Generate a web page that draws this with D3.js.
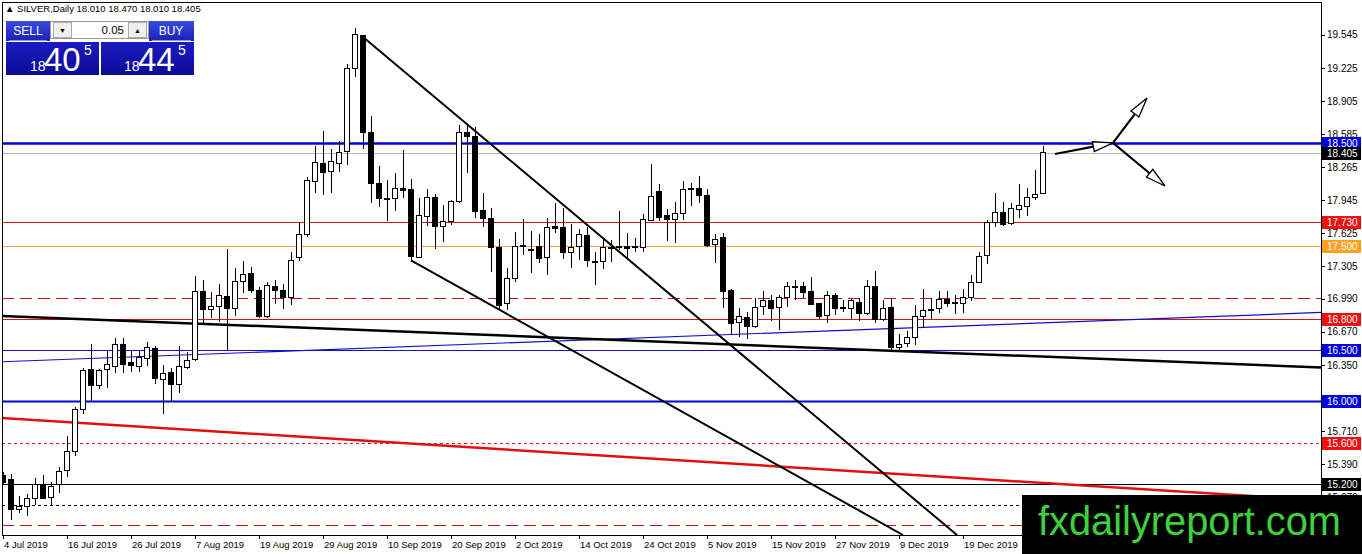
<!DOCTYPE html>
<html>
<head>
<meta charset="utf-8">
<script src="https://cdn.jsdelivr.net/npm/d3@7"></script>
<style>
  body { margin: 0; background: #fff; }
  text { font-family: "Liberation Sans", Arial, sans-serif; }
</style>
</head>
<body>
<div id="chart"></div>
<script>
// candles (daily, 4 Jul 2019 .. end of Dec 2019)
var opens = [15.28,15.24,14.95,14.98,15.06,15.19,15.07,15.19,15.33,15.51,15.92,16.31,16.15,16.31,16.34,16.55,16.37,16.34,16.41,16.51,
  16.21,16.28,16.16,16.33,16.40,17.06,16.89,16.92,17.01,16.90,17.16,17.24,17.07,16.82,17.11,17.07,17.00,17.39,17.61,18.13,
  18.30,18.22,18.30,18.42,19.22,19.54,18.60,18.11,17.95,17.96,18.06,18.05,17.39,17.79,17.97,17.69,17.74,17.93,18.60,18.56,
  17.85,17.77,17.49,16.95,17.19,17.50,17.47,17.50,17.39,17.69,17.68,17.44,17.50,17.60,17.35,17.35,17.48,17.49,17.50,17.49,
  17.49,17.75,18.03,17.80,17.76,17.82,18.06,18.06,17.99,17.52,17.58,17.07,16.76,16.81,16.72,16.92,16.97,16.91,17.00,17.10,
  17.11,17.06,16.95,16.83,17.02,16.90,16.90,16.96,16.85,17.11,16.79,16.91,16.52,16.56,16.62,16.82,16.88,16.90,16.98,16.95,
  16.95,17.00,17.15,17.41,17.73,17.83,17.72,17.86,17.88,17.97,18.01];
var highs = [15.31,15.30,15.08,15.10,15.26,15.29,15.22,15.36,15.66,15.94,16.32,16.55,16.31,16.49,16.61,16.61,16.49,16.49,16.57,16.53,
  16.35,16.32,16.53,16.48,17.21,17.17,17.06,17.13,17.47,17.29,17.36,17.30,17.11,17.15,17.17,17.13,17.44,17.73,18.17,18.47,
  18.62,18.44,18.52,19.26,19.61,19.54,18.76,18.28,18.14,18.21,18.43,18.15,17.97,18.05,18.01,17.90,17.95,18.67,18.68,18.65,
  18.02,17.87,17.57,17.29,17.64,17.76,17.65,17.62,17.77,17.92,17.87,17.72,17.67,17.69,17.44,17.58,17.56,17.84,17.63,17.58,
  17.81,18.30,18.10,17.86,17.93,18.13,18.11,18.18,18.05,17.62,17.63,17.09,16.90,16.86,17.00,17.07,17.03,17.03,17.15,17.17,
  17.15,17.20,16.95,17.07,17.05,16.98,17.00,17.00,17.17,17.26,16.98,17.00,16.65,16.68,16.93,17.09,17.00,17.07,17.07,17.03,
  17.09,17.22,17.44,17.75,18.02,17.93,17.92,18.10,18.06,18.24,18.47];
var lows = [15.19,14.85,14.92,14.89,15.00,15.05,14.99,15.11,15.27,15.47,15.88,16.00,16.12,16.13,16.27,16.27,16.28,16.28,16.34,16.17,
  15.88,15.99,16.08,16.31,16.39,16.76,16.81,16.77,16.50,16.82,17.05,17.05,16.81,16.81,16.94,16.89,16.93,17.36,17.59,18.02,
  18.00,18.02,18.22,18.29,19.14,18.44,17.92,17.88,17.74,17.84,17.97,17.35,17.39,17.70,17.47,17.54,17.71,17.92,18.21,17.77,
  17.69,17.25,16.89,16.88,17.15,17.42,17.24,17.34,17.22,17.63,17.38,17.29,17.37,17.30,17.12,17.28,17.35,17.46,17.39,17.44,
  17.44,17.74,17.74,17.55,17.53,17.75,17.89,17.92,17.49,17.34,16.90,16.65,16.62,16.60,16.71,16.83,16.78,16.69,16.91,16.98,
  17.00,16.94,16.80,16.76,16.83,16.86,16.80,16.78,16.83,16.76,16.78,16.50,16.50,16.52,16.54,16.71,16.80,16.85,16.91,16.84,
  16.85,16.97,17.14,17.33,17.69,17.70,17.71,17.77,17.79,17.95,18.01];
var closes = [15.21,14.95,14.98,15.06,15.19,15.06,15.17,15.32,15.51,15.92,16.30,16.15,16.30,16.36,16.55,16.36,16.35,16.42,16.52,16.22,
  16.27,16.16,16.34,16.39,17.06,16.89,16.92,17.02,16.90,17.16,17.23,17.07,16.82,17.12,17.07,17.00,17.36,17.61,18.14,18.31,
  18.21,18.32,18.41,19.22,19.55,18.60,18.11,17.96,17.96,18.06,18.04,17.40,17.80,17.97,17.69,17.74,17.93,18.60,18.56,17.84,
  17.77,17.49,16.93,17.19,17.50,17.51,17.46,17.38,17.68,17.67,17.44,17.49,17.61,17.36,17.34,17.49,17.49,17.50,17.48,17.50,
  17.76,17.98,17.78,17.76,17.82,18.05,18.05,17.99,17.51,17.57,17.06,16.75,16.82,16.72,16.91,16.97,16.90,17.00,17.11,17.11,
  17.05,16.94,16.82,17.02,16.90,16.91,16.97,16.85,17.11,16.79,16.90,16.52,16.55,16.62,16.82,16.88,16.89,16.98,16.95,16.96,
  17.00,17.15,17.40,17.73,17.83,17.71,17.87,17.89,17.97,18.00,18.405];

// date labels, one every 8 bars
var dateLabels = ["4 Jul 2019","16 Jul 2019","26 Jul 2019","7 Aug 2019","19 Aug 2019","29 Aug 2019","10 Sep 2019","20 Sep 2019",
  "2 Oct 2019","14 Oct 2019","24 Oct 2019","5 Nov 2019","15 Nov 2019","27 Nov 2019","9 Dec 2019","19 Dec 2019"];
var priceTicks = [19.545,19.225,18.905,18.585,18.265,17.945,17.625,17.305,16.990,16.670,16.350,15.710,15.390,15.070];

// horizontal levels drawn on the chart
var levelValues = [18.5, 18.405, 17.73, 17.5, 17.0, 16.8, 16.5, 16.0, 15.6, 15.2, 15.0, 14.8];

// trend lines as [barIndex, price] pairs
var blackTrend = [[-0.125, 16.825], [164.75, 16.326]];
var blueTrend = [[-0.125, 16.382], [164.75, 16.859]];
var redTrend = [[-0.125, 15.837], [164.75, 15.040]];
var channelUpper = [[45, 19.526], [119.25, 14.705]];
var channelLower = [[51, 17.362], [112.5, 14.705]];
var arrowIn = [[131.5, 18.393], [138.75, 18.5]];
var arrowUp = [[138.75, 18.5], [143, 18.935]];
var arrowDown = [[138.75, 18.5], [145.25, 18.083]];

var W = 1362, H = 554;
var plotL = 2, plotR = 1321, plotT = 2, plotB = 535;

var svg = d3.select("#chart").append("svg")
    .attr("width", W).attr("height", H);

var x = d3.scaleLinear().domain([0, 130]).range([3, 1043]);
var y = d3.scaleLinear().domain([14.705, 19.864]).range([plotB, plotT]);

var defs = svg.append("defs");
defs.append("clipPath").attr("id", "plot")
    .append("rect").attr("x", plotL).attr("y", plotT)
    .attr("width", plotR - plotL).attr("height", plotB - plotT);

var plot = svg.append("g").attr("clip-path", "url(#plot)");

// level line styles
function levelStyle(v) {
  if (v === 18.5) return {c: "#0000dc", w: 2.5, box: "#0000dc"};
  if (v === 18.405) return {c: "#b4b4b4", w: 1, box: "#000"};
  if (v === 17.73) return {c: "#d01818", w: 1, box: "#f01010"};
  if (v === 17.5) return {c: "#f0a030", w: 1.2, box: "#ffa020"};
  if (v === 17.0) return {c: "#c01010", w: 1.2, dash: "12,6"};
  if (v === 16.8) return {c: "#d01818", w: 1, box: "#f01010"};
  if (v === 16.5) return {c: "#1010d0", w: 1, box: "#0000dc"};
  if (v === 16.0) return {c: "#0000dc", w: 2, box: "#0000dc"};
  if (v === 15.6) return {c: "#d01818", w: 1, dash: "3,3", box: "#f01010"};
  if (v === 15.2) return {c: "#000", w: 1, box: "#000"};
  if (v === 15.0) return {c: "#000", w: 1, dash: "3,3"};
  return {c: "#c01010", w: 1.2, dash: "12,6"};
}

plot.selectAll(".level").data(levelValues).enter().append("line")
    .attr("x1", plotL).attr("x2", plotR)
    .attr("y1", function(d){ return Math.round(y(d)) + 0.5; })
    .attr("y2", function(d){ return Math.round(y(d)) + 0.5; })
    .attr("stroke", function(d){ return levelStyle(d).c; })
    .attr("stroke-width", function(d){ return levelStyle(d).w; })
    .attr("stroke-dasharray", function(d){ return levelStyle(d).dash || null; });

// sloped trend lines
var line = d3.line().x(function(d){ return x(d[0]); }).y(function(d){ return y(d[1]); });
plot.append("path").attr("d", line(blueTrend)).attr("stroke", "#1010c8").attr("stroke-width", 1.2).attr("fill", "none");
plot.append("path").attr("d", line(redTrend)).attr("stroke", "#e01010").attr("stroke-width", 2.5).attr("fill", "none");
plot.append("path").attr("d", line(blackTrend)).attr("stroke", "#000").attr("stroke-width", 2.5).attr("fill", "none");
plot.append("path").attr("d", line(channelUpper)).attr("stroke", "#000").attr("stroke-width", 2).attr("fill", "none");
plot.append("path").attr("d", line(channelLower)).attr("stroke", "#000").attr("stroke-width", 2).attr("fill", "none");

// candles
var idx = d3.range(opens.length);
var candles = plot.append("g").attr("shape-rendering", "crispEdges");
candles.selectAll(".wick").data(idx).enter().append("line")
    .attr("x1", function(i){ return x(i); }).attr("x2", function(i){ return x(i); })
    .attr("y1", function(i){ return y(highs[i]); })
    .attr("y2", function(i){ return y(lows[i]); })
    .attr("stroke", "#000").attr("stroke-width", 1);
candles.selectAll(".body").data(idx).enter().append("rect")
    .attr("x", function(i){ return x(i) - 2.5; })
    .attr("width", 5)
    .attr("y", function(i){ return y(Math.max(opens[i], closes[i])); })
    .attr("height", function(i){ return Math.max(0.5, Math.abs(y(opens[i]) - y(closes[i]))); })
    .attr("fill", function(i){ return closes[i] >= opens[i] ? "#fff" : "#000"; })
    .attr("stroke", "#000").attr("stroke-width", 1);

// arrows with hollow heads
function arrow(pts) {
  var x1 = x(pts[0][0]), y1 = y(pts[0][1]), x2 = x(pts[1][0]), y2 = y(pts[1][1]);
  var dx = x2 - x1, dy = y2 - y1, len = Math.sqrt(dx*dx + dy*dy);
  var ux = dx/len, uy = dy/len, hl = 20, hw = 5;
  var bx = x2 - ux*hl, by = y2 - uy*hl;
  svg.append("line").attr("x1", x1).attr("y1", y1).attr("x2", bx).attr("y2", by)
      .attr("stroke", "#000").attr("stroke-width", 2.2);
  svg.append("polygon")
      .attr("points", [[x2, y2], [bx - uy*hw, by + ux*hw], [bx + uy*hw, by - ux*hw]].map(function(p){ return p.join(","); }).join(" "))
      .attr("fill", "#fff").attr("stroke", "#000").attr("stroke-width", 1.3);
}
arrow(arrowIn);
arrow(arrowUp);
arrow(arrowDown);

// frame
svg.append("rect").attr("x", plotL + 0.5).attr("y", plotT + 0.5)
    .attr("width", plotR - plotL).attr("height", plotB - plotT)
    .attr("fill", "none").attr("stroke", "#000").attr("stroke-width", 1);

// price axis
var yAxis = svg.append("g");
yAxis.selectAll(".tick").data(priceTicks).enter().append("line")
    .attr("x1", plotR).attr("x2", plotR + 4)
    .attr("y1", function(d){ return Math.round(y(d)) + 0.5; })
    .attr("y2", function(d){ return Math.round(y(d)) + 0.5; })
    .attr("stroke", "#000");
yAxis.selectAll(".lbl").data(priceTicks).enter().append("text")
    .attr("x", plotR + 6).attr("y", function(d){ return y(d); })
    .attr("dy", "0.35em").attr("font-size", 10).attr("fill", "#000")
    .text(d3.format(".3f"));

// colored level tags
var tagged = levelValues.filter(function(d){ return levelStyle(d).box; });
yAxis.selectAll(".tag").data(tagged).enter().append("rect")
    .attr("x", plotR + 1).attr("width", 39)
    .attr("y", function(d){ return Math.round(y(d)) - 6; }).attr("height", 13)
    .attr("fill", function(d){ return levelStyle(d).box; });
yAxis.selectAll(".tagtxt").data(tagged).enter().append("text")
    .attr("x", plotR + 6).attr("y", function(d){ return Math.round(y(d)) + 0.5; })
    .attr("dy", "0.35em").attr("font-size", 10).attr("fill", "#fff")
    .text(d3.format(".3f"));

// date axis
var xAxis = svg.append("g");
xAxis.selectAll(".tick").data(dateLabels).enter().append("line")
    .attr("x1", function(d, i){ return Math.round(x(i*8)) + 0.5; })
    .attr("x2", function(d, i){ return Math.round(x(i*8)) + 0.5; })
    .attr("y1", plotB).attr("y2", plotB + 4).attr("stroke", "#000");
xAxis.selectAll(".lbl").data(dateLabels).enter().append("text")
    .attr("x", function(d, i){ return x(i*8) + 1; })
    .attr("y", 548).attr("font-size", 9.5).attr("fill", "#000")
    .text(function(d){ return d; });

// header line
svg.append("text").attr("x", 5).attr("y", 12).attr("font-size", 9.5)
    .text("\u25B2 SILVER,Daily  18.010 18.470 18.010 18.405");

// one-click trading panel
var g1 = defs.append("linearGradient").attr("id", "btn").attr("x1", 0).attr("y1", 0).attr("x2", 0).attr("y2", 1);
g1.append("stop").attr("offset", "0%").attr("stop-color", "#3a4ae0");
g1.append("stop").attr("offset", "100%").attr("stop-color", "#1a22b8");
var g2 = defs.append("linearGradient").attr("id", "pbox").attr("x1", 0).attr("y1", 0).attr("x2", 0).attr("y2", 1);
g2.append("stop").attr("offset", "0%").attr("stop-color", "#1c1cc0");
g2.append("stop").attr("offset", "100%").attr("stop-color", "#0a0a98");

var panel = svg.append("g");
panel.append("rect").attr("x", 6).attr("y", 21).attr("width", 44).attr("height", 20).attr("fill", "url(#btn)");
panel.append("rect").attr("x", 149).attr("y", 21).attr("width", 45).attr("height", 20).attr("fill", "url(#btn)");
panel.append("text").attr("x", 28).attr("y", 35).attr("text-anchor", "middle").attr("font-size", 12).attr("fill", "#fff").text("SELL");
panel.append("text").attr("x", 171).attr("y", 35).attr("text-anchor", "middle").attr("font-size", 12).attr("fill", "#fff").text("BUY");
panel.append("line").attr("x1", 9).attr("x2", 47).attr("y1", 40.5).attr("y2", 40.5).attr("stroke", "#8a96f0");
panel.append("line").attr("x1", 152).attr("x2", 191).attr("y1", 40.5).attr("y2", 40.5).attr("stroke", "#8a96f0");
panel.append("rect").attr("x", 50.5).attr("y", 21.5).attr("width", 98).attr("height", 17).attr("fill", "#fff").attr("stroke", "#999");
panel.append("rect").attr("x", 53.5).attr("y", 22.5).attr("width", 18).attr("height", 15).attr("fill", "#f0f0f0").attr("stroke", "#aaa");
panel.append("rect").attr("x", 128.5).attr("y", 22.5).attr("width", 18).attr("height", 15).attr("fill", "#f0f0f0").attr("stroke", "#aaa");
panel.append("text").attr("x", 62.5).attr("y", 33).attr("text-anchor", "middle").attr("font-size", 7).text("\u25BC");
panel.append("text").attr("x", 137.5).attr("y", 33).attr("text-anchor", "middle").attr("font-size", 7).text("\u25B2");
panel.append("text").attr("x", 124).attr("y", 34).attr("text-anchor", "end").attr("font-size", 11.5).text("0.05");

panel.append("rect").attr("x", 6).attr("y", 42).attr("width", 93).attr("height", 33).attr("fill", "url(#pbox)");
panel.append("rect").attr("x", 101).attr("y", 42).attr("width", 93).attr("height", 33).attr("fill", "url(#pbox)");
function priceText(x0, big) {
  panel.append("text").attr("x", x0).attr("y", 71).attr("font-size", 14).attr("fill", "#fff").text("18");
  panel.append("text").attr("x", x0 + 14).attr("y", 71).attr("font-size", 33).attr("fill", "#fff").text(big);
  panel.append("text").attr("x", x0 + 54).attr("y", 55).attr("font-size", 14).attr("fill", "#fff").text("5");
}
priceText(30, "40");
priceText(124, "44");

// watermark
svg.append("rect").attr("x", 1022).attr("y", 495).attr("width", 340).attr("height", 59).attr("fill", "#000");
svg.append("text").attr("x", 1038).attr("y", 535).attr("font-size", 40).attr("fill", "#3cd23c")
    .attr("textLength", 303).attr("lengthAdjust", "spacingAndGlyphs")
    .text("fxdailyreport.com");
</script>
</body>
</html>
